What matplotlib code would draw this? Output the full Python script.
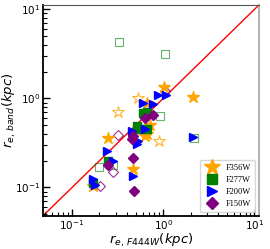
import numpy as np
import matplotlib.pyplot as plt

plt.rcParams["mathtext.fontset"] = "stix"

# F356W (filled / open)
f356_x = [1.03, 2.13, 0.245, 0.168, 0.67, 0.47, 0.67, 0.636, 0.72]
f356_y = [1.33, 1.03, 0.355, 0.103, 0.88, 0.163, 0.394, 0.374, 0.50]
f356o_x = [0.322, 0.533, 0.904]
f356o_y = [0.70, 1.00, 0.329]

# F277W
f277_x = [0.604, 0.67, 0.52, 0.67, 0.56, 0.25, 0.172]
f277_y = [0.68, 0.71, 0.485, 0.45, 0.45, 0.196, 0.111]
f277o_x = [0.33, 1.05, 0.93, 2.18, 0.20, 0.284, 0.52]
f277o_y = [4.26, 3.12, 0.64, 0.355, 0.172, 0.18, 0.47]

# F200W
f200_x = [0.88, 1.08, 0.604, 0.78, 2.13, 0.244, 0.458, 0.636, 0.52, 0.47, 0.172, 0.18, 0.284, 0.533]
f200_y = [1.08, 1.08, 0.88, 0.86, 0.365, 0.254, 0.426, 0.45, 0.304, 0.133, 0.126, 0.108, 0.196, 0.329]

# F150W
f150_x = [0.636, 0.78, 0.47, 0.458, 0.47, 0.482, 0.25]
f150_y = [0.60, 0.66, 0.374, 0.346, 0.217, 0.092, 0.18]
f150o_x = [1.05, 0.322, 0.284, 0.205]
f150o_y = [1.20, 0.384, 0.148, 0.103]

lims = [0.048, 11.2]

fig = plt.figure(figsize=(2.70, 2.49), dpi=100)
ax = fig.add_axes([0.159, 0.133, 0.8, 0.847])

ax.plot(lims, lims, color="red", lw=1, zorder=1)

ax.plot(f356o_x, f356o_y, "*", ms=9, mfc="none", mec="orange", mew=0.8, alpha=0.8, ls="none")
ax.plot(f277o_x, f277o_y, "s", ms=5.5, mfc="none", mec="green", mew=0.8, alpha=0.6, ls="none")
ax.plot(f150o_x, f150o_y, "D", ms=5, mfc="none", mec="purple", mew=0.8, alpha=0.8, ls="none")

ax.plot(f356_x, f356_y, "*", ms=9, color="orange", ls="none", label="F356W")
ax.plot(f277_x, f277_y, "s", ms=5.5, color="green", ls="none", label="F277W")
ax.plot(f200_x, f200_y, ">", ms=6, color="blue", ls="none", label="F200W")
ax.plot(f150_x, f150_y, "D", ms=5, color="purple", ls="none", label="F150W")

ax.set_xscale("log")
ax.set_yscale("log")
ax.set_xlim(lims)
ax.set_ylim(lims)

ax.tick_params(which="both", direction="in", top=False, right=False)
ax.tick_params(which="major", length=5, width=1, labelsize=7.5, pad=2)
ax.tick_params(which="minor", length=3, width=0.8)

ax.spines["left"].set_linewidth(1.3)
ax.spines["bottom"].set_linewidth(1.3)
ax.spines["top"].set_color("#555555")
ax.spines["right"].set_color("#aaaaaa")
ax.spines["right"].set_linewidth(1.3)

ax.set_xlabel(r"$r_{e,\,F444W}(kpc)$", fontsize=9.5, math_fontfamily="dejavusans")
ax.set_ylabel(r"$r_{e,\,band}(kpc)$", fontsize=9.5, math_fontfamily="dejavusans")
ax.xaxis.set_label_coords(0.5, -0.075)
ax.yaxis.set_label_coords(-0.115, 0.5)

leg = ax.legend(loc="lower right", prop={"family": "Liberation Serif", "size": 6},
                handletextpad=0.6, borderpad=0.5, labelspacing=0.45, markerscale=1.3)

fig.savefig("out.png", dpi=100)
